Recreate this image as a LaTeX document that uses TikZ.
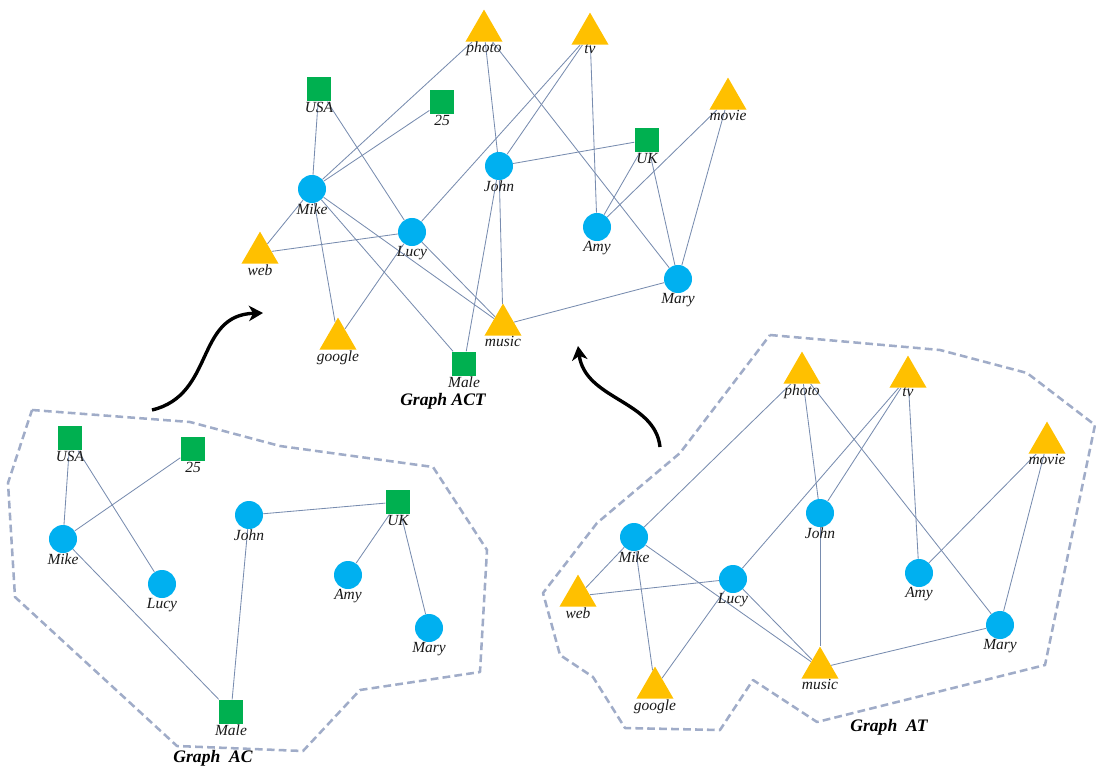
\documentclass[tikz,border=0pt]{standalone}
\usepackage{fontspec}
\setmainfont{Liberation Serif}
\usetikzlibrary{shapes.geometric,arrows.meta,backgrounds}
\definecolor{pblue}{RGB}{0,176,240}
\definecolor{sgreen}{RGB}{0,176,80}
\definecolor{tgold}{RGB}{255,192,0}
\definecolor{linkcol}{RGB}{120,140,175}
\definecolor{hullcol}{RGB}{160,172,200}
\tikzstyle{lbl}=[font=\fontsize{11}{12}\selectfont\itshape, inner sep=0pt, text=black!90]
\tikzstyle{person}=[circle, fill=pblue, minimum size=0.7cm, inner sep=0pt, label distance=-2pt]
\tikzstyle{attr}=[rectangle, fill=sgreen, minimum size=0.62cm, inner sep=0pt, label distance=-2.5pt]
\tikzstyle{item}=[regular polygon, regular polygon sides=3, fill=tgold, minimum size=1.07cm, inner sep=0pt, label distance=-0.5pt]
\tikzstyle{link}=[draw=linkcol, line width=0.6pt]
\tikzstyle{hull}=[draw=hullcol, line width=1.8pt, dash pattern=on 5.5pt off 3pt, line join=round]
\tikzstyle{title}=[font=\fontsize{12.5}{14}\selectfont\bfseries\itshape]
\tikzset{>={Stealth[length=10pt,width=11pt,inset=3pt]}}

\begin{document}
\begin{tikzpicture}[x=0.025cm, y=-0.025cm]
        \useasboundingbox (0,0) rectangle (1096,774);

        % Graph ACT
        \foreach \n/\x/\y in {John/499/166, Mike/312/189, Lucy/412/232, Amy/597/227, Mary/678/279}
          \node at (\x,\y) [person, label={[lbl]below:\n}] (act_\n) {};
        \foreach \n/\x/\y in {USA/319/89, 25/442/102, UK/647/140, Male/464/364}
          \node at (\x,\y) [attr, label={[lbl]below:\n}] (act_\n) {};
        \foreach \n/\x/\y in {photo/484/31, tv/590/34, movie/728/99, web/260/253, google/338/339, music/503/325}
          \node at (\x,\y) [item, label={[lbl]below:\n}] (act_\n) {};

        \begin{scope}[on background layer]
        \foreach \a/\b in {USA/Mike, USA/Lucy, 25/Mike, photo/Mike, photo/John, photo/Mary,
            tv/John, tv/Lucy, tv/Amy, John/UK, UK/Amy, UK/Mary, movie/Amy, movie/Mary,
            John/music, John/Male, Mike/web, Mike/google, Mike/music, Mike/Male,
            Lucy/web, Lucy/google, Lucy/music, music/Mary}
          \draw [link] (act_\a) -- (act_\b);
        \end{scope}
        \node at (443,401) [title] (act_title) {Graph ACT};

        % Graph AC
        \foreach \n/\x/\y in {Mike/63/539, Lucy/162/584, John/249/515, Amy/348/575, Mary/429/628}
          \node at (\x,\y) [person, label={[lbl]below:\n}] (ac_\n) {};
        \foreach \n/\x/\y in {USA/70/438, 25/193/449, UK/398/502, Male/231/712}
          \node at (\x,\y) [attr, label={[lbl]below:\n}] (ac_\n) {};

        \begin{scope}[on background layer]
        \foreach \a/\b in {USA/Mike, USA/Lucy, 25/Mike, Mike/Male, John/UK, John/Male, UK/Amy, UK/Mary}
          \draw [link] (ac_\a) -- (ac_\b);
        \end{scope}
        \draw [hull] (32,410) -- (190,422) -- (280,446) -- (433,467) -- (487,550) -- (480,672)
          -- (360,690) -- (303,751) -- (177,746) -- (15,597) -- (8,483) -- cycle;
        \node at (213,758) [title] (ac_title) {Graph\ \ AC};

        % Graph AT
        \foreach \n/\x/\y in {Mike/634/537, John/820/513, Lucy/733/579, Amy/919/573, Mary/1000/625}
          \node at (\x,\y) [person, label={[lbl]below:\n}] (at_\n) {};
        \foreach \n/\x/\y in {photo/802/373, tv/908/377, movie/1047/443, web/578/596, google/655/688, music/820/668}
          \node at (\x,\y) [item, label={[lbl]below:\n}] (at_\n) {};

        \begin{scope}[on background layer]
        \foreach \a/\b in {photo/Mike, photo/John, photo/Mary, tv/John, tv/Lucy, tv/Amy,
            movie/Amy, movie/Mary, Mike/web, Mike/google, Mike/music, Lucy/web,
            Lucy/google, Lucy/music, John/music, music/Mary}
          \draw [link] (at_\a) -- (at_\b);
        \end{scope}
        \draw [hull] (770,335) -- (940,350) -- (1027,373) -- (1095,425) -- (1045,665) -- (817,722)
          -- (753,680) -- (720,730) -- (625,728) -- (593,677) -- (560,655) -- (543,593)
          -- (597,523) -- (680,453) -- cycle;
        \node at (889,727) [title] (at_title) {Graph\ \ AT};

        % Arrows
        \coordinate (ac_out) at (152,410);
        \coordinate (ac_in) at (263,313);
        \coordinate (at_out) at (660,447);
        \coordinate (at_in) at (578,346);
        \draw [->, line width=2.4pt] (ac_out) .. controls (215,395) and (195,315) .. (ac_in);
        \draw [->, line width=2.4pt] (at_out) .. controls (655,400) and (585,400) .. (at_in);
      \end{tikzpicture}
\end{document}
